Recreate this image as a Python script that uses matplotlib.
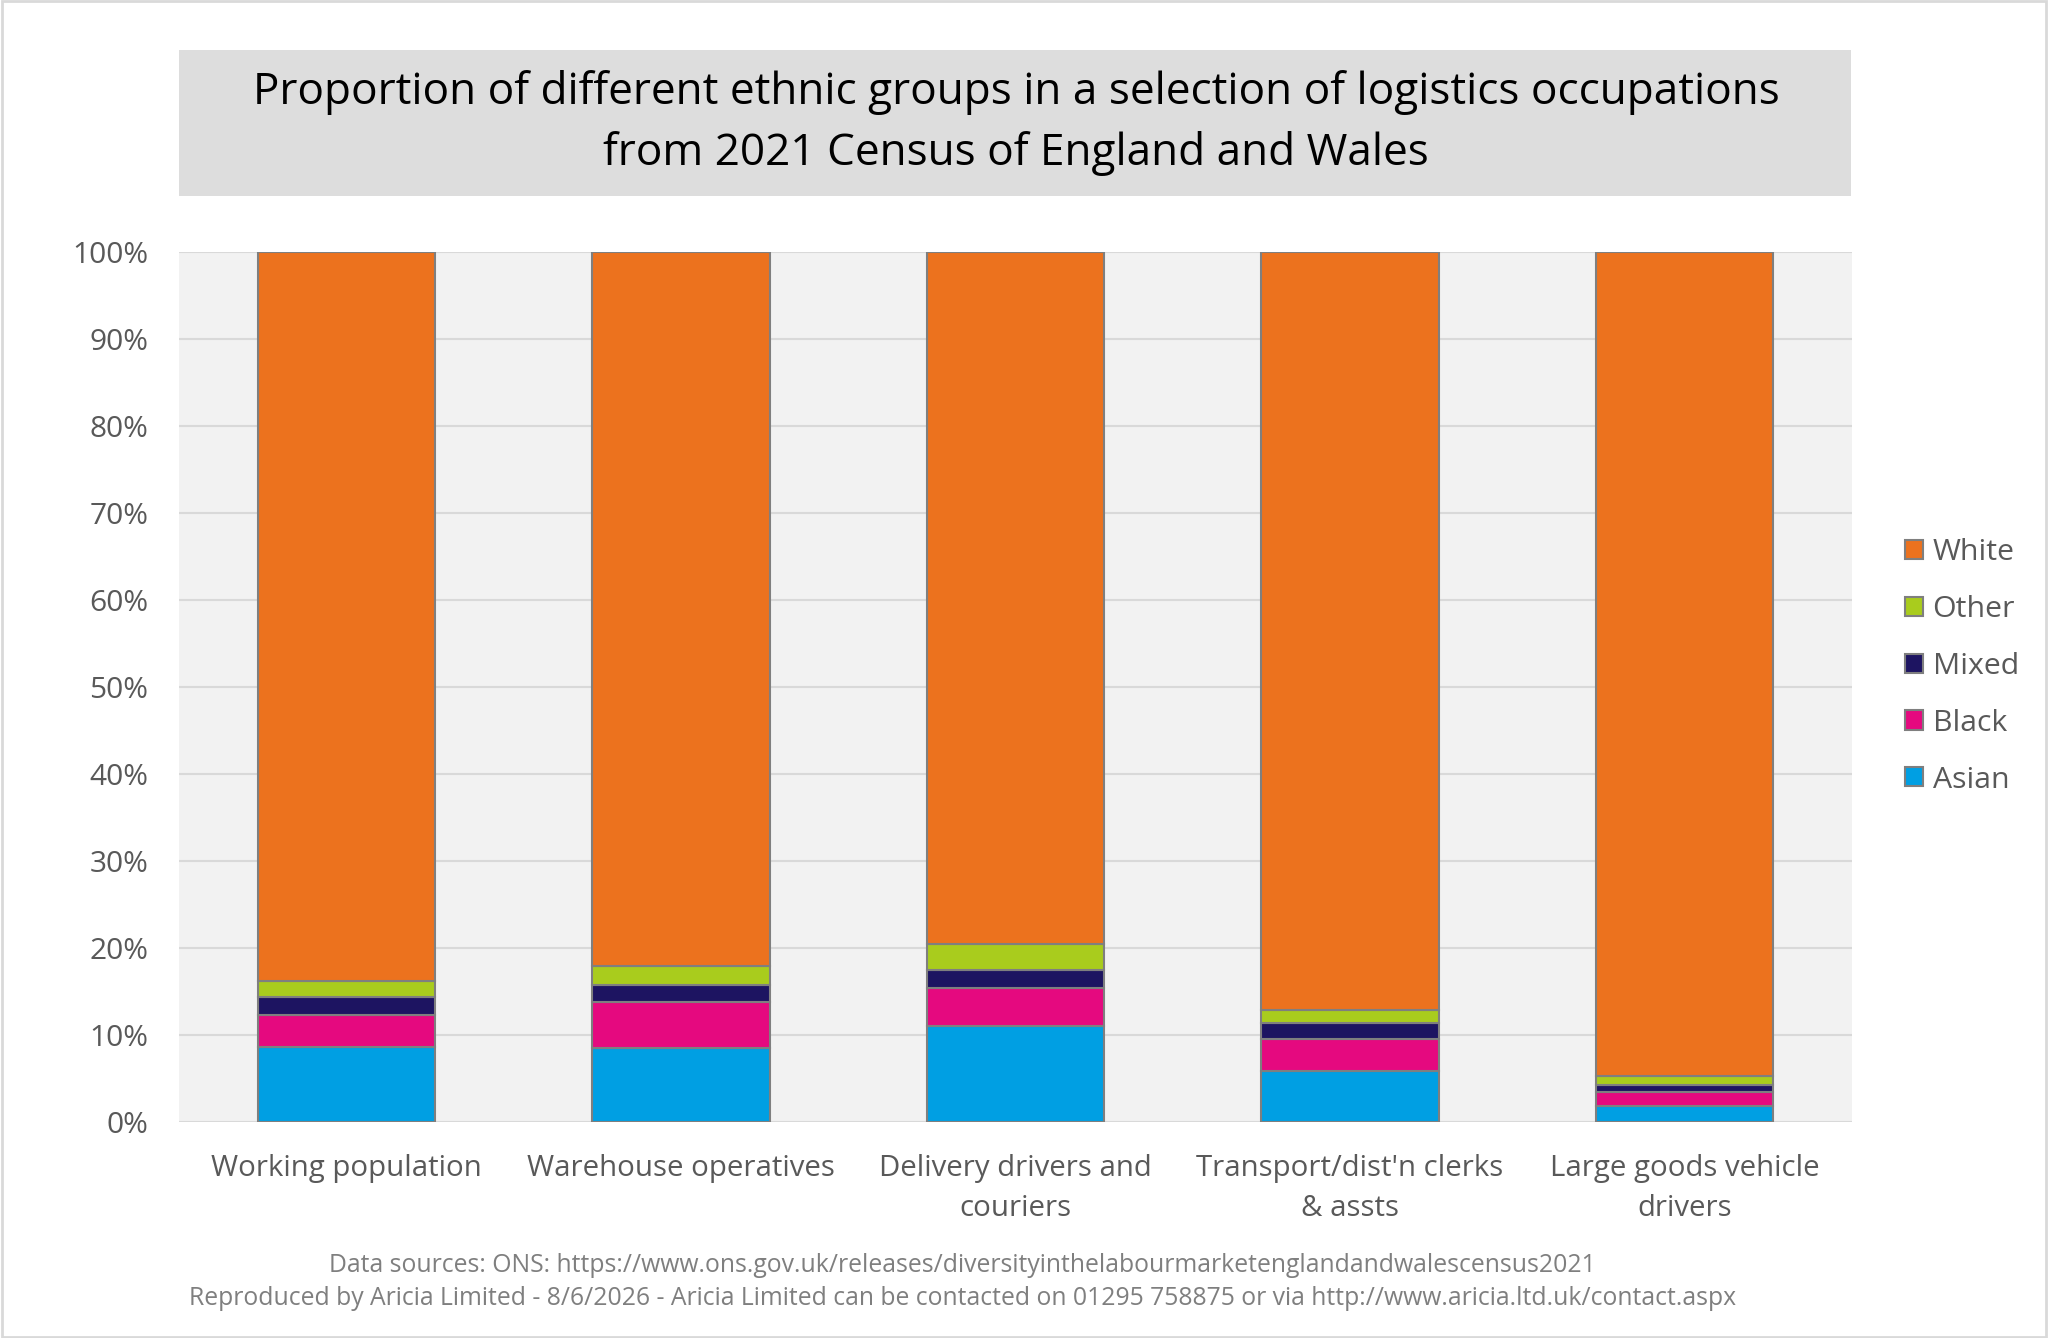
import matplotlib.pyplot as plt
from matplotlib.patches import Rectangle, Patch
from matplotlib.ticker import PercentFormatter

plt.rcParams['font.family'] = ['Open Sans', 'DejaVu Sans']

categories = ['Working population', 'Warehouse operatives', 'Delivery drivers and\ncouriers',
              "Transport/dist'n clerks\n& assts", 'Large goods vehicle\ndrivers']
asian = [8.6, 8.5, 11.0, 5.9, 1.8]
black = [3.7, 5.3, 4.4, 3.7, 1.6]
mixed = [2.1, 1.9, 2.1, 1.8, 0.9]
other = [1.8, 2.2, 3.0, 1.5, 1.0]
white = [100 - a - b - m - o for a, b, m, o in zip(asian, black, mixed, other)]

series = [('Asian', asian, '#009FE3'), ('Black', black, '#E5097F'),
          ('Mixed', mixed, '#1D1461'), ('Other', other, '#A9CC1D'),
          ('White', white, '#EC721E')]

fig = plt.figure(figsize=(20.48, 13.38), dpi=100)
fig.patch.set_facecolor('white')
fig.patches.append(Rectangle((0.001, 0.001), 0.998, 0.998, transform=fig.transFigure,
                             fill=False, edgecolor='#D9D9D9', linewidth=2))

# title box
fig.patches.append(Rectangle((0.0874, 0.8535), 0.8165, 0.1091, transform=fig.transFigure,
                             facecolor='#DDDDDD', edgecolor='none'))
fig.text(0.4962, 0.9082, 'Proportion of different ethnic groups in a selection of logistics occupations\nfrom 2021 Census of England and Wales',
         ha='center', va='center', fontsize=31.8, color='black', linespacing=1.47)

ax = fig.add_axes([0.0874, 0.1614, 0.8169, 0.6503])
ax.set_facecolor('#F2F2F2')
x = range(len(categories))
bottom = [0] * len(categories)
for name, vals, col in series:
    ax.bar(x, vals, bottom=bottom, width=0.53, color=col, edgecolor='#7F7F7F',
           linewidth=1.5, label=name, zorder=3)
    bottom = [b + v for b, v in zip(bottom, vals)]

ax.set_xlim(-0.5, 4.5)
ax.set_ylim(0, 100)
ax.set_yticks(range(0, 101, 10))
ax.yaxis.set_major_formatter(PercentFormatter(decimals=0))
ax.grid(axis='y', color='#D9D9D9', linewidth=1.5, zorder=0)
ax.set_xticks(list(x))
ax.set_xticklabels(categories, fontsize=21.2, color='#595959', linespacing=1.5)
ax.tick_params(axis='y', labelsize=21.5, labelcolor='#595959', length=0, pad=22)
ax.tick_params(axis='x', length=0, pad=23)
for s in ax.spines.values():
    s.set_visible(False)

handles = [Patch(facecolor=c, edgecolor='#7F7F7F', linewidth=1.5, label=n) for n, _, c in series[::-1]]
fig.legend(handles=handles, loc='center left', bbox_to_anchor=(0.917, 0.502), frameon=False,
           fontsize=21.8, labelcolor='#595959', handlelength=0.6, handleheight=0.6,
           handletextpad=0.3, labelspacing=0.92)

fig.text(0.470, 0.0545, 'Data sources: ONS: https://www.ons.gov.uk/releases/diversityinthelabourmarketenglandandwalescensus2021',
         ha='center', va='center', fontsize=17.8, color='#7F7F7F')
fig.text(0.470, 0.0293, 'Reproduced by Aricia Limited - 8/6/2026 - Aricia Limited can be contacted on 01295 758875 or via http://www.aricia.ltd.uk/contact.aspx',
         ha='center', va='center', fontsize=17.8, color='#7F7F7F')

plt.savefig('out.png', dpi=100)
